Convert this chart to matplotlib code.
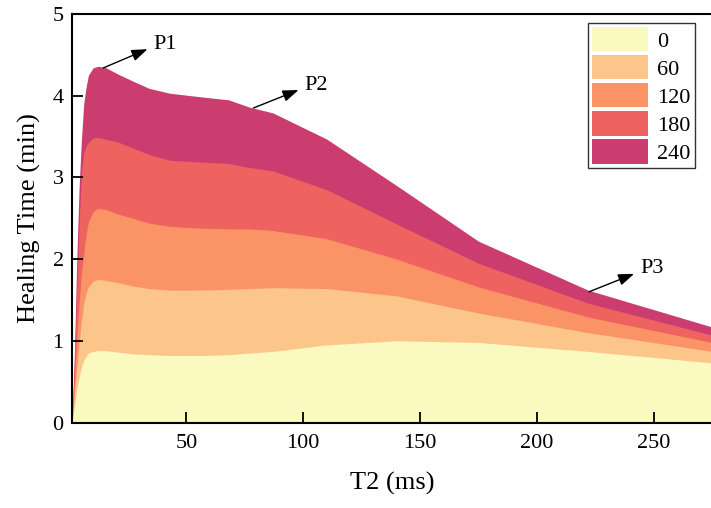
import numpy as np
import matplotlib
matplotlib.use("Agg")
import matplotlib.pyplot as plt

plt.rcParams['font.family'] = ['Liberation Serif', 'DejaVu Serif']

# T2 (ms) sample positions
t2 = [1, 2, 3, 4, 5, 6, 7, 8, 10, 12, 15, 21, 27, 34, 43, 55, 68, 77, 87, 110, 140, 175, 222, 275]

# Top edge of each layer (healing time, min)
h0 = [0, 0.20, 0.40, 0.55, 0.68, 0.76, 0.81, 0.85, 0.87, 0.88, 0.88, 0.86, 0.84, 0.83, 0.82, 0.82, 0.83, 0.85, 0.87, 0.95, 1.00, 0.98, 0.87, 0.73]
h60 = [0, 0.35, 0.65, 0.95, 1.24, 1.45, 1.58, 1.66, 1.73, 1.75, 1.74, 1.71, 1.67, 1.64, 1.62, 1.62, 1.63, 1.64, 1.65, 1.64, 1.55, 1.34, 1.10, 0.87]
h120 = [0, 0.50, 1.00, 1.45, 1.82, 2.06, 2.30, 2.45, 2.58, 2.62, 2.61, 2.55, 2.50, 2.44, 2.40, 2.38, 2.37, 2.37, 2.35, 2.25, 2.00, 1.66, 1.29, 0.98]
h180 = [0, 0.70, 1.60, 2.40, 3.05, 3.30, 3.38, 3.43, 3.48, 3.49, 3.47, 3.43, 3.36, 3.28, 3.21, 3.19, 3.17, 3.12, 3.08, 2.85, 2.43, 1.95, 1.46, 1.07]
h240 = [0, 0.83, 1.95, 2.85, 3.45, 3.90, 4.10, 4.25, 4.34, 4.36, 4.35, 4.26, 4.18, 4.09, 4.03, 3.99, 3.95, 3.86, 3.79, 3.47, 2.90, 2.22, 1.62, 1.17]

labels = ['0', '60', '120', '180', '240']
colors = ['#FAF9C0', '#FCC68B', '#FA9467', '#EE6360', '#CA3D6E']

# annotation points: (label, arrow tail, arrow tip)
notes = [
    ('P1', (14.4, 4.34), (33.3, 4.57)),
    ('P2', (78.7, 3.85), (98.0, 4.07)),
    ('P3', (222.4, 1.60), (241.7, 1.82)),
]

fig = plt.figure(figsize=(7.11, 5.08), dpi=100)
ax = fig.add_axes([0.1013, 0.1683, 0.9, 0.8041])

layers = [h0, h60, h120, h180, h240]
handles = []
for i in range(len(layers) - 1, -1, -1):
    p = ax.fill_between(t2, 0, layers[i], color=colors[i], lw=0, label=labels[i])
    handles.append(p)
handles = handles[::-1]

for name, tail, tip in notes:
    ax.annotate('', xy=tip, xytext=tail,
                arrowprops=dict(arrowstyle='-|>,head_length=0.6,head_width=0.22',
                                color='black', lw=1, mutation_scale=16,
                                shrinkA=0, shrinkB=0))
    ax.text(tip[0] + 2.5, tip[1] + 0.06, name, fontsize=16, va='center', ha='left')

ax.set_xlim(1, 275)
ax.set_ylim(0, 5)
ax.set_xticks([50, 100, 150, 200, 250])
ax.set_yticks([0, 1, 2, 3, 4, 5])
ax.tick_params(direction='in', length=8, width=1.3, labelsize=16, pad=8)
ax.tick_params(axis='y', pad=6)
for s in ['left', 'bottom', 'top']:
    ax.spines[s].set_linewidth(1.5)
ax.spines['right'].set_visible(False)

ax.set_xlabel('T2 (ms)', fontsize=19, labelpad=14)
ax.set_ylabel('Healing Time (min)', fontsize=19, labelpad=8)

leg = ax.legend(handles=handles, labels=labels, loc='upper right', bbox_to_anchor=(0.98, 0.99),
                fontsize=16, frameon=True, fancybox=False, edgecolor='black',
                handlelength=2.5, handleheight=1.3, labelspacing=0.16, borderpad=0.2,
                handletextpad=0.4, borderaxespad=0.2)
leg.get_frame().set_linewidth(1.0)

fig.savefig('out.png', dpi=100)
